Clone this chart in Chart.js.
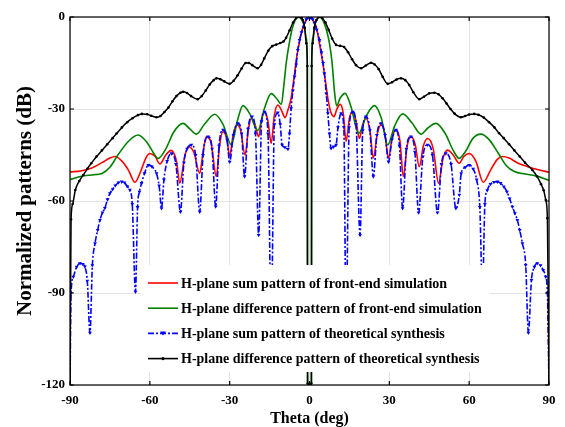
<!DOCTYPE html>
<html>
<head>
<meta charset="utf-8">
<script src="https://cdn.jsdelivr.net/npm/chart.js@4.4.0/dist/chart.umd.min.js"></script>
<style>
  html, body { margin: 0; padding: 0; background: #fff; }
</style>
</head>
<body>
<canvas id="pattern" width="565" height="427"></canvas>
<script>
// H-plane sum pattern, front-end simulation
const thetaRed = [
  -90, -86, -82, -78, -75, -73, -70.5, -68, -65.6, -63.5,
  -61.5, -60, -58, -56.25, -54, -52, -50, -48.75, -47, -45.6,
  -43.5, -41.25, -40, -38.75, -37, -35, -33.8, -32.5, -31, -30,
  -28.8, -27.5, -26, -24.2, -23, -21.9, -20.5, -19.1, -18, -16.9,
  -15.6, -14.4, -13.2, -11.9, -10.5, -9.2, -8, -6.9, -5.7, -4.8,
  -3.6, -2.5, -1.2, 0, 1.2, 2.5, 3.6, 4.9, 6, 6.9,
  8, 9.2, 10.3, 11.5, 12.7, 13.75, 15, 16.25, 17.5, 18.75,
  20, 21.25, 22.7, 24, 25.5, 26.9, 28.3, 29.7, 31, 32.5,
  34, 35.25, 36.7, 38.1, 39.7, 41.25, 42.8, 44.4, 46.5, 48.5,
  50.2, 51.9, 54, 56.25, 58, 60, 62.5, 65.3, 68, 70.5,
  72.5, 75, 78, 82, 86, 90
];
const dbRed = [
  -50.5, -50.2, -49.3, -47.5, -46, -45.5, -47, -50, -53.9, -50.5,
  -46, -44.5, -45.5, -47.9, -45, -43.5, -47, -54.2, -46, -42.3,
  -44, -51, -44, -39, -41, -52, -42, -37.4, -40, -45.5,
  -39, -35.2, -36.5, -45, -37, -33, -35, -39, -33.5, -30.9,
  -34, -41.2, -32, -28.7, -30.5, -32.8, -30, -26.5, -19, -13,
  -7.5, -3.5, -0.8, 0, -0.8, -3.2, -8, -14.5, -21, -26.5,
  -31, -32.5, -30, -28.5, -31.5, -40.6, -33, -30.9, -34, -39.6,
  -35, -33, -37, -46, -38, -35.2, -38, -46, -39.5, -36.8,
  -40.5, -52, -42, -39, -41.5, -48.8, -42, -39.6, -43, -54.2,
  -46, -43.4, -45, -47.7, -45.5, -44.5, -47, -53.9, -50, -46.5,
  -45.5, -46, -47.5, -48.8, -49.8, -50.6
];

// H-plane difference pattern, front-end simulation
const thetaGreen = [
  -90, -86, -82, -78, -75, -72, -68, -64.4, -61, -58.5,
  -56.9, -54, -51, -47.5, -45, -42.5, -39.5, -35.6, -32.5, -29.4,
  -27, -25, -22.5, -19.4, -17, -14.4, -12, -10.6, -9.6, -8.75,
  -7.5, -6.4, -5.2, -4.2, -3, -1.9, -1.2, -0.85, -0.75, 0,
  0.75, 0.85, 1.2, 2, 3, 3.9, 5, 6.3, 7.5, 8.5,
  9.4, 10.2, 11.5, 13.4, 15.5, 18.5, 21.5, 24.4, 27, 29.4,
  32, 35, 38.5, 41.9, 44.5, 47.5, 51, 54, 56.25, 58.5,
  61.5, 64.4, 67.5, 71, 74, 77, 81, 85, 90
];
const dbGreen = [
  -53, -52, -51.5, -51, -49, -45, -40.5, -38.5, -41, -44.5,
  -46.1, -43, -37.5, -34.7, -36.5, -38.2, -35, -31.7, -35, -41.7,
  -33.5, -28.9, -31.5, -37, -30, -25, -27, -28.5, -22, -15,
  -8, -3.5, -0.8, 0, -0.8, -3.2, -7, -14, -119.5, -120,
  -119.5, -14, -7, -2.5, -0.6, 0, -1, -4, -8.6, -15,
  -24.4, -29, -26.5, -24.9, -29, -37.9, -32, -28.9, -33, -41.7,
  -35.5, -31.6, -34.5, -38.2, -36.2, -34.7, -38, -43.5, -46.1, -44,
  -39.5, -38.2, -40, -44.5, -48.5, -50.4, -51.2, -51.8, -53.2
];

// H-plane sum pattern, theoretical synthesis
const thetaBlue = [
  -90, -89.6, -88.75, -87.5, -86.25, -85.2, -84.4, -83.5, -82.5, -81.6,
  -80.6, -79.6, -78.75, -77.8, -76.9, -75.9, -75, -74, -73, -71.8,
  -70.6, -69.5, -68.5, -67.5, -66.6, -65.4, -64.6, -63.9, -63.1, -62,
  -60.6, -59.2, -57.5, -56.5, -55.6, -54.7, -53.5, -51.9, -50.2, -48.5,
  -47.2, -46, -44.4, -42.8, -41.25, -40, -38.1, -36.6, -35.25, -34,
  -32.5, -31, -30, -28.6, -26.9, -25.5, -24.4, -23.1, -21.6, -20.3,
  -19.1, -18, -16.9, -15.6, -14.4, -13.2, -11.9, -11, -10.3, -9.2,
  -8.1, -7.5, -6.9, -6.25, -5.6, -5, -4.4, -3.75, -3, -1.9,
  -1.2, -0.6, 0, 0.6, 1.2, 1.9, 2.7, 3.75, 4.5, 5.1,
  5.6, 6.3, 6.9, 7.5, 8.1, 9, 10, 10.7, 11.9, 12.9,
  13.75, 14.9, 16.25, 17.5, 19, 20, 21.25, 22.7, 24, 25.3,
  26.9, 28.4, 29.7, 31, 32.5, 33.8, 35, 36.4, 38.1, 39.6,
  41, 42.6, 44.4, 46.2, 48.1, 49.6, 51.25, 53.2, 55, 56.3,
  57, 58.5, 60, 61.5, 62.8, 64, 65, 65.9, 66.8, 68,
  69.3, 70.6, 71.8, 73, 74.2, 75.2, 76.25, 77.2, 78.1, 79,
  80, 81.25, 82.25, 83.4, 84.5, 85.6, 86.8, 87.8, 88.75, 89.4,
  90
];
const dbBlue = [
  -120, -90, -84.7, -81.5, -80.3, -80.6, -81.4, -86, -103, -81,
  -73.8, -69.5, -66.2, -63.8, -62.3, -59.5, -57.5, -56.2, -55, -54,
  -53.7, -54, -55.2, -56.4, -61, -89.6, -62, -57, -54.2, -51,
  -48.3, -48.8, -51, -55, -62.4, -53, -47, -44.5, -48, -63.5,
  -47.5, -43, -41.7, -45, -63.5, -45, -39, -43, -61.8, -42,
  -36.8, -40, -47.2, -38.5, -34.7, -38, -52, -36.5, -32.5, -38,
  -71.1, -34, -30.9, -38, -100, -35, -31.2, -35, -41.7, -42.5,
  -43.1, -38, -29.8, -24, -19.4, -15.5, -10.8, -7.5, -5, -2,
  -0.8, -0.3, 0, -0.3, -0.8, -2, -4.2, -7.5, -11.5, -15,
  -18.4, -25, -31.4, -38, -42.8, -42.3, -41.7, -36, -31.4, -36,
  -100, -36, -30.9, -35, -71.1, -37, -32.5, -37, -52, -38.5,
  -34.7, -38.5, -47.2, -40, -36.8, -42, -62.4, -43, -39, -44,
  -63.8, -45.5, -41.7, -45, -63.8, -48, -44.5, -48, -62.4, -58,
  -51, -49, -48.3, -49.5, -53, -62, -90, -61, -56.5, -54.5,
  -53.8, -53.7, -54.2, -55.3, -57, -59.2, -61.9, -64, -66.2, -69.5,
  -73.8, -80.9, -103, -85.8, -81.5, -80.3, -81, -82.5, -84.7, -90,
  -120
];

// H-plane difference pattern, theoretical synthesis
const thetaBlack = [
  -90, -89.6, -89, -88, -86.5, -85, -83.5, -82, -80, -78,
  -76, -74, -72.5, -70.5, -68.5, -66.5, -64.5, -63, -61, -59.5,
  -57.5, -56, -54.5, -53, -51.5, -50, -48.5, -47.5, -46, -44.5,
  -42, -40.5, -39, -37.5, -36, -35, -33.5, -32, -30, -28.5,
  -27, -25.5, -24, -22.8, -21.5, -19.5, -18.2, -17, -15.5, -14,
  -12.5, -11, -9.8, -8.8, -7.5, -6.2, -5, -4, -3, -2.5,
  -1.8, -1.2, -0.8, -0.7, 0, 0.7, 0.8, 1.2, 1.8, 2.6,
  3.8, 4.8, 6, 7.2, 8.5, 10, 11.5, 13, 14.5, 16,
  17.5, 19.4, 21.2, 23.1, 24.5, 26, 27.5, 29.4, 31, 32.7,
  34.4, 36, 37.5, 39, 41.25, 43, 45, 46.9, 48.5, 50,
  51.5, 53, 54.5, 56.9, 58.5, 60, 61.9, 63.5, 65.5, 67.5,
  69.5, 71.25, 73, 75, 77, 79, 81, 83.75, 85.5, 87,
  88, 88.8, 89.4, 90
];
const dbBlack = [
  -120, -66, -61, -56.4, -53.5, -51.5, -49.5, -47.7, -45.5, -43.5,
  -41.5, -39.5, -38, -36, -34.3, -33, -32, -31.6, -31.7, -32.2,
  -32.7, -32.3, -31, -29.5, -27.5, -25.8, -24.7, -24.4, -24.8, -25.8,
  -26.8, -25.8, -24, -22, -20.6, -20, -20.3, -21, -21.8, -20.8,
  -19, -16.8, -15, -15, -15.7, -16.7, -15.6, -13.5, -11, -9.5,
  -9, -8.5, -8, -6.8, -4.4, -1.8, -0.3, 0, -0.3, -1,
  -3.5, -8.6, -16, -119.5, -120, -119.5, -16, -8.6, -3.5, -1,
  0, -0.4, -1.8, -4.2, -7, -9.1, -9.4, -9.8, -11.5, -13.8,
  -15.7, -16.7, -15.8, -14.9, -15.5, -17, -19.5, -21.8, -21.3, -20.4,
  -20, -20.6, -22.2, -24.5, -26.8, -26, -24.9, -24.7, -25.2, -26.5,
  -28.2, -30, -31.5, -32.7, -32.3, -31.8, -31.6, -31.9, -32.8, -34.3,
  -36, -37.9, -39.5, -41.5, -43.5, -45.5, -47.5, -49.9, -52, -54.5,
  -56.5, -59.7, -65.6, -120
];

const legendLabels = [
  'H-plane sum pattern of front-end simulation',
  'H-plane difference pattern of front-end simulation',
  'H-plane sum pattern of theoretical synthesis',
  'H-plane difference pattern of theoretical synthesis'
];

const serif = "'Liberation Serif', 'Times New Roman', serif";
const RED = '#ff0000', GREEN = '#008000', BLUE = '#0000ff', BLACK = '#000000';

function toPoints(thetas, values) {
  return thetas.map((t, i) => ({ x: t, y: values[i] }));
}

// white legend box inside the plot, drawn over the curves
const insideLegend = {
  id: 'insideLegend',
  afterDatasetsDraw(chart) {
    const ctx = chart.ctx;
    const area = chart.chartArea;
    const bx = area.left + 71, by = 265;
    ctx.save();
    ctx.fillStyle = '#fff';
    ctx.fillRect(bx, by, 349, 107);
    const styles = [
      { color: RED, dash: [], marker: null },
      { color: GREEN, dash: [], marker: null },
      { color: BLUE, dash: [6, 2, 2, 2], marker: 'tri' },
      { color: BLACK, dash: [], marker: 'dot' }
    ];
    ctx.font = 'bold 14px ' + serif;
    ctx.textBaseline = 'middle';
    legendLabels.forEach((txt, i) => {
      const y = 283 + i * 25.2;
      const s = styles[i];
      ctx.strokeStyle = s.color;
      ctx.lineWidth = 1.6;
      ctx.setLineDash(s.dash);
      ctx.beginPath();
      ctx.moveTo(bx + 7, y);
      ctx.lineTo(bx + 37, y);
      ctx.stroke();
      ctx.setLineDash([]);
      ctx.fillStyle = s.color;
      if (s.marker === 'tri') {
        ctx.beginPath();
        ctx.moveTo(bx + 19, y - 2);
        ctx.lineTo(bx + 25, y - 2);
        ctx.lineTo(bx + 22, y + 2);
        ctx.closePath();
        ctx.fill();
      } else if (s.marker === 'dot') {
        ctx.beginPath();
        ctx.arc(bx + 22, y, 1.6, 0, Math.PI * 2);
        ctx.fill();
      }
      ctx.fillStyle = '#000';
      ctx.fillText(txt, bx + 40, y + 1);
    });
    ctx.restore();
  },
  afterDraw(chart) {
    // box frame and inward ticks on all four sides
    const ctx = chart.ctx;
    const { left, right, top, bottom } = chart.chartArea;
    const xs = chart.scales.x, ys = chart.scales.y;
    ctx.save();
    ctx.strokeStyle = '#000';
    ctx.lineWidth = 1.2;
    ctx.strokeRect(left, top, right - left, bottom - top);
    ctx.beginPath();
    xs.ticks.forEach(t => {
      const px = xs.getPixelForValue(t.value);
      ctx.moveTo(px, bottom); ctx.lineTo(px, bottom - 4);
      ctx.moveTo(px, top); ctx.lineTo(px, top + 4);
    });
    ys.ticks.forEach(t => {
      const py = ys.getPixelForValue(t.value);
      ctx.moveTo(left, py); ctx.lineTo(left + 4, py);
      ctx.moveTo(right, py); ctx.lineTo(right - 4, py);
    });
    ctx.stroke();
    ctx.restore();
  }
};

new Chart(document.getElementById('pattern').getContext('2d'), {
  type: 'line',
  data: {
    datasets: [
      {
        label: legendLabels[0],
        data: toPoints(thetaRed, dbRed),
        borderColor: RED,
        borderWidth: 1.6,
        pointRadius: 0,
        cubicInterpolationMode: 'monotone',
        order: 4
      },
      {
        label: legendLabels[1],
        data: toPoints(thetaGreen, dbGreen),
        borderColor: GREEN,
        borderWidth: 1.6,
        pointRadius: 0,
        cubicInterpolationMode: 'monotone',
        order: 3
      },
      {
        label: legendLabels[2],
        data: toPoints(thetaBlue, dbBlue),
        borderColor: BLUE,
        backgroundColor: BLUE,
        borderWidth: 1.6,
        borderDash: [6, 2, 2, 2],
        pointStyle: 'triangle',
        rotation: 180,
        pointRadius: 2.2,
        pointBorderWidth: 0,
        cubicInterpolationMode: 'monotone',
        order: 2
      },
      {
        label: legendLabels[3],
        data: toPoints(thetaBlack, dbBlack),
        borderColor: BLACK,
        backgroundColor: BLACK,
        borderWidth: 1.5,
        pointStyle: 'circle',
        pointRadius: 1.3,
        pointBorderWidth: 0,
        cubicInterpolationMode: 'monotone',
        order: 1
      }
    ]
  },
  options: {
    responsive: false,
    animation: false,
    layout: { padding: { top: 17, right: 16, left: 0, bottom: 0 } },
    plugins: {
      legend: { display: false },
      tooltip: { enabled: false }
    },
    scales: {
      x: {
        type: 'linear',
        min: -90,
        max: 90,
        ticks: {
          stepSize: 30,
          padding: 8,
          color: '#000',
          font: { family: serif, size: 13, weight: 'bold' }
        },
        grid: { color: '#e4e4e4', drawTicks: false },
        border: { display: false },
        title: {
          display: true,
          text: 'Theta (deg)',
          color: '#000',
          font: { family: serif, size: 16, weight: 'bold', lineHeight: 1 },
          padding: { top: 0, bottom: 0 }
        },
        afterFit(scale) { scale.height = 42; }
      },
      y: {
        min: -120,
        max: 0,
        ticks: {
          stepSize: 30,
          padding: 5,
          color: '#000',
          font: { family: serif, size: 13, weight: 'bold' }
        },
        grid: { color: '#e4e4e4', drawTicks: false },
        border: { display: false },
        title: {
          display: true,
          text: 'Normalized patterns (dB)',
          color: '#000',
          font: { family: serif, size: 21, weight: 'bold' },
          padding: { top: 13, bottom: 0 }
        },
        afterFit(scale) { scale.width = 70; }
      }
    }
  },
  plugins: [insideLegend]
});
</script>
</body>
</html>
